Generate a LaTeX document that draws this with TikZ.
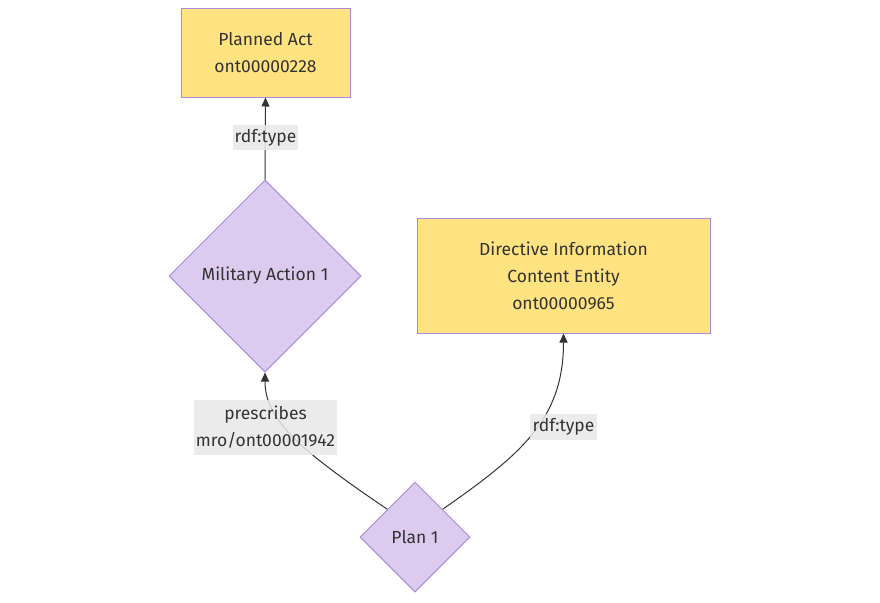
\documentclass[tikz,border=0pt]{standalone}
\usepackage{fontspec}
\setmainfont{Fira Sans}
\usetikzlibrary{shapes.geometric,arrows.meta}
\definecolor{boxyellow}{HTML}{FFE381}
\definecolor{lav}{HTML}{DCCAEF}
\definecolor{strokep}{HTML}{A98BDD}
\definecolor{txt}{HTML}{333333}
\definecolor{lblbg}{HTML}{E8E8E8}
\tikzset{
  classbox/.style={draw=strokep, line width=1pt, fill=boxyellow, rectangle, inner sep=0pt, align=center, text=txt, font=\fontsize{17.5}{27}\selectfont},
  instdia/.style={draw=strokep, line width=1pt, fill=lav, diamond, inner sep=0pt, aspect=1, align=center, text=txt, font=\fontsize{17.5}{27}\selectfont},
  elabel/.style={fill=lblbg, fill opacity=0.85, text opacity=1, inner sep=0pt, align=center, text=txt, font=\fontsize{17.5}{27}\selectfont},
  conn/.style={draw=txt, line width=1pt, -{Triangle[length=9pt,width=8pt]}},
}
\begin{document}
\begin{tikzpicture}[x=1pt,y=1pt]
\useasboundingbox (0,0) rectangle (880,-602);
\node[classbox, minimum width=169pt, minimum height=88pt] (pa) at (265.5,-53) {Planned Act\\ont00000228};
\node[instdia, minimum width=192pt, minimum height=192pt] (ma) at (265,-276) {Military Action 1};
\node[classbox, minimum width=293pt, minimum height=115pt] (dice) at (563.5,-275.5) {Directive Information\\Content Entity\\ont00000965};
\node[instdia, minimum width=110pt, minimum height=110pt] (plan) at (415,-537) {Plan 1};
% edges
\draw[conn] (plan.north west) .. controls (300,-450) and (265,-420) .. (ma.south);
\draw[conn] (plan.north east) .. controls (520,-455) and (563.5,-420) .. (dice.south);
\draw[conn] (ma.north) -- (pa.south);
% labels
\node[elabel, minimum width=65pt, minimum height=25pt] (l1) at (265.5,-137.5) {rdf:type};
\node[elabel, minimum width=143pt, minimum height=55pt] (l2) at (265.5,-427.5) {prescribes\\mro/ont00001942};
\node[elabel, minimum width=67pt, minimum height=26pt] (l3) at (563.5,-427) {rdf:type};
\end{tikzpicture}
\end{document}
